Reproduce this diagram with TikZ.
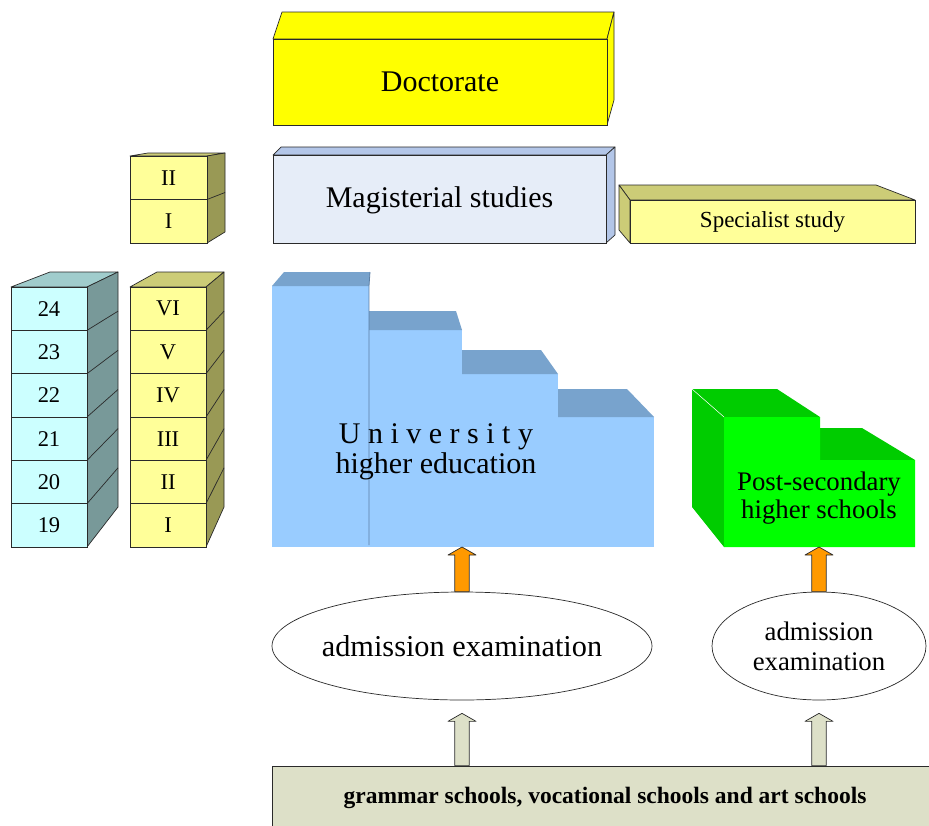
\documentclass[tikz,border=0pt]{standalone}
\usepackage{fontspec}
\setmainfont{Liberation Serif}
\usetikzlibrary{calc,shapes.geometric}
\definecolor{edge}{HTML}{2A2A2A}
\definecolor{docy}{HTML}{FFFF00}
\definecolor{magf}{HTML}{E6EDF8}
\definecolor{magt}{HTML}{B3C6E8}
\definecolor{paley}{HTML}{FFFF99}
\definecolor{olivt}{HTML}{CCCC77}
\definecolor{olivs}{HTML}{999955}
\definecolor{cyanf}{HTML}{CCFFFF}
\definecolor{cyant}{HTML}{A0CCCC}
\definecolor{cyans}{HTML}{789999}
\definecolor{unif}{HTML}{99CCFF}
\definecolor{unit}{HTML}{78A3CD}
\definecolor{unil}{HTML}{5B7FA6}
\definecolor{gfront}{HTML}{00FF00}
\definecolor{gdark}{HTML}{00CC00}
\definecolor{orng}{HTML}{FF9900}
\definecolor{beige}{HTML}{DDE0C8}
\newcommand\blkarrow[3]{\draw[#1] let \p1=(#2),\p2=(#3) in
  (\x1-7.2pt,\y1) -- (\x1-7.2pt,\y2-8pt) -- (\x1-14pt,\y2-8pt) -- (\x1,\y2)
  -- (\x1+14pt,\y2-8pt) -- (\x1+7.2pt,\y2-8pt) -- (\x1+7.2pt,\y1) -- cycle;}
\begin{document}
\begin{tikzpicture}[x=1pt,y=-1pt,
  face/.style={draw=edge, line width=0.7pt, line join=round},
  bigbox/.style={draw=edge, line width=0.7pt, inner sep=0pt},
  agecell/.style={draw=edge, line width=0.7pt, fill=cyanf, minimum width=76pt,
     minimum height=43.33pt, inner sep=0pt, font=\fontsize{22.5}{24}\selectfont},
  romcell/.style={agecell, fill=paley},
  exam/.style={ellipse, draw=edge, line width=0.7pt, fill=white, inner sep=0pt},
  examtext/.style={inner sep=0pt, align=center}]
\fill[white] (0,0) rectangle (929,825);
\useasboundingbox (0,0) rectangle (929,825);

% Doctorate
\filldraw[face, fill=docy] (273,39) -- (282,12) -- (614,12) -- (607,39) -- cycle;
\filldraw[face, fill=docy] (607,39) -- (614,12) -- (614,100) -- (607,125) -- cycle;
\node[bigbox, fill=docy, minimum width=334pt, minimum height=86pt,
  font=\fontsize{30}{31}\selectfont] (doc) at (440,82) {Doctorate};

% Magisterial
\filldraw[face, fill=magt] (273,155) -- (281,147) -- (615,147) -- (606,155) -- cycle;
\filldraw[face, fill=magt] (606,155) -- (615,147) -- (615,235) -- (606,243) -- cycle;
\node[bigbox, fill=magf, minimum width=333pt, minimum height=88pt,
  text height=21pt, text depth=4pt,
  font=\fontsize{30}{31}\selectfont] (mag) at (439.5,199) {Magisterial studies};

% Specialist
\filldraw[face, fill=olivt] (619,185) -- (876,185) -- (915,200) -- (630,200) -- cycle;
\filldraw[face, fill=olivt] (619,185) -- (630,200) -- (630,243) -- (619,230) -- cycle;
\node[bigbox, fill=paley, minimum width=285pt, minimum height=43pt,
  font=\fontsize{23}{24}\selectfont] (spec) at (772.5,221.5) {Specialist study};

% small stack II / I
\filldraw[face, fill=olivt] (130,156) -- (148,153) -- (225,153) -- (207,156) -- cycle;
\filldraw[face, fill=olivs] (207,156) -- (225,153) -- (225,232) -- (207,243) -- cycle;
\draw[face] (207,199.5) -- (225,192.5);
\node[romcell, minimum width=77pt, minimum height=43.5pt] (m2) at (168.5,177.75) {II};
\node[romcell, minimum width=77pt, minimum height=43.5pt] (m1) at (168.5,221.25) {I};

% age stack
\filldraw[face, fill=cyant] (11,287) -- (50,272) -- (118,272) -- (87,287) -- cycle;
\filldraw[face, fill=cyans] (87,287) -- (118,272) -- (118,507) -- (87,547) -- cycle;
\foreach \k in {1,...,5} \draw[face] (87,{287+43.333*\k}) -- (118,{272+39.167*\k});
\node[agecell] (a24) at (49,308.67) {24};
\node[agecell] (a23) at (49,352) {23};
\node[agecell] (a22) at (49,395.33) {22};
\node[agecell] (a21) at (49,438.67) {21};
\node[agecell] (a20) at (49,482) {20};
\node[agecell] (a19) at (49,525.33) {19};

% roman stack
\filldraw[face, fill=olivt] (130,287) -- (157,272) -- (224,272) -- (206,287) -- cycle;
\filldraw[face, fill=olivs] (206,287) -- (224,272) -- (224,507) -- (206,547) -- cycle;
\foreach \k in {1,...,5} \draw[face] (206,{287+43.333*\k}) -- (224,{272+39.167*\k});
\node[romcell] (r6) at (168,308.67) {VI};
\node[romcell] (r5) at (168,352) {V};
\node[romcell] (r4) at (168,395.33) {IV};
\node[romcell] (r3) at (168,438.67) {III};
\node[romcell] (r2) at (168,482) {II};
\node[romcell] (r1) at (168,525.33) {I};

% University
\fill[unif] (272,286) rectangle (369,547);
\fill[unif] (369,330) rectangle (462,547);
\fill[unif] (462,374) rectangle (558,547);
\fill[unif] (558,417) rectangle (654,547);
\fill[unit] (272,286) -- (284,272) -- (370,272) -- (369,286) -- cycle;
\fill[unit] (369,330) -- (369,311) -- (456,311) -- (462,330) -- cycle;
\fill[unit] (462,374) -- (462,350) -- (541,350) -- (558,374) -- cycle;
\fill[unit] (558,417) -- (558,389) -- (627,389) -- (654,417) -- cycle;
\draw[unil, line width=0.8pt] (370,272) -- (369,286) -- (369,545);
\node[align=center, inner sep=0pt, font=\fontsize{30}{30}\selectfont] (uni) at (436,452)
  {U n i v e r s i t y\\higher education};
\coordinate (ub) at (462,547);

% Post-secondary
\fill[gdark] (692,389) -- (724,417) -- (724,547) -- (692,507) -- cycle;
\fill[gdark] (692,389) -- (777,389) -- (820,417) -- (724,417) -- cycle;
\fill[gdark] (820,428) -- (862,428) -- (915,460) -- (820,460) -- cycle;
\fill[gfront] (724,417) -- (820,417) -- (820,460) -- (915,460) -- (915,547) -- (724,547) -- cycle;
\draw[white, line width=0.5pt] (692,389) -- (724,417);
\node[align=center, inner sep=0pt, font=\fontsize{26.8}{28}\selectfont] (psh) at (819,498)
  {Post-secondary\\higher schools};
\coordinate (gb) at (820,547);

% admission examinations
\node[exam, minimum width=380pt, minimum height=108pt] (e1) at (462,646) {};
\node[examtext, font=\fontsize{30.3}{30}\selectfont] (e1t) at (e1.center) {admission examination};
\node[exam, minimum width=214pt, minimum height=108pt] (e2) at (819,646) {};
\node[examtext, font=\fontsize{26.8}{30}\selectfont] (e2t) at (e2.center) {admission\\examination};

% schools
\node[bigbox, fill=beige, minimum width=666pt, minimum height=63pt,
  font=\bfseries\fontsize{23.5}{25}\selectfont] (bot) at (605,797.5)
  {grammar schools, vocational schools and art schools};

% arrows
\blkarrow{face, fill=orng}{e1.north}{ub}
\blkarrow{face, fill=orng}{e2.north}{gb}
\blkarrow{face, fill=beige}{bot.north -| e1.south}{$(e1.south)+(0,13)$}
\blkarrow{face, fill=beige}{bot.north -| e2.south}{$(e2.south)+(0,13)$}
\end{tikzpicture}
\end{document}
